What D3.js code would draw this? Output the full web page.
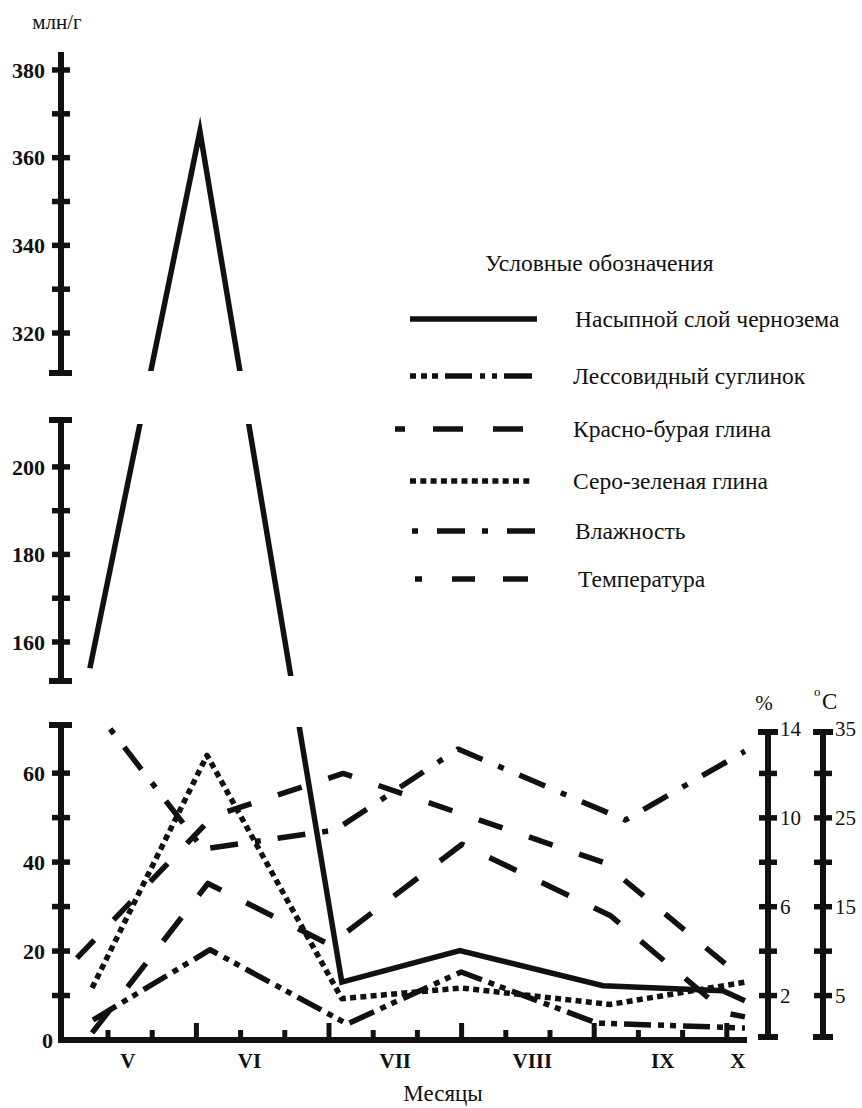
<!DOCTYPE html>
<html><head><meta charset="utf-8">
<script src="https://cdn.jsdelivr.net/npm/d3@7/dist/d3.min.js"></script>
<style>
body{margin:0;background:#fff}
svg{display:block}
</style>
</head><body>
<svg id="c" width="862" height="1108"></svg>
<script>
// ---------------- DATA ----------------
// x positions in ten-day periods (decades) counted from 1 May
const monthLabels = ["V","VI","VII","VIII","IX","X"];
const monthLabelPos = [1.45, 4.2, 7.5, 10.6, 13.55, 15.25];
const xMinorTicks = [1,2,4,5,7,8,10,11,13,14];
const xMajorTicks = [3,6,9,12,15];

const leftLabelTicks = [0,20,40,60,160,180,200,320,340,360,380];
const leftMinorTicks = [10,30,50,170,190,330,350,370];
const humTicksLabeled = [2,6,10,14];
const humTicksMinor = [4,8,12];
const tempTicksLabeled = [5,15,25,35];
const tempTicksMinor = [10,20,30];

// Насыпной слой чернозема (млн/г)
const chernozemX = [0.59, 3.08, 6.29, 8.96, 12.20, 14.91, 15.41];
const chernozemY = [154, 366, 13, 20.1, 12.2, 11.1, 8.8];
// Лессовидный суглинок (млн/г)
const loessX = [0.66, 3.31, 6.41, 8.99, 12.06, 15.41];
const loessY = [4.5, 20.3, 3.6, 15.3, 3.8, 2.7];
// Красно-бурая глина (млн/г)
const redClayX = [0.64, 3.26, 6.02, 9.01, 12.36, 15.0, 15.41];
const redClayY = [1.6, 35.2, 21.4, 44, 28, 6, 5.2];
// Серо-зеленая глина (млн/г)
const greyClayX = [0.64, 3.24, 6.29, 8.99, 12.36, 15.41];
const greyClayY = [11.7, 64, 9.3, 11.7, 8.0, 13.0];
// Влажность (%)
const humidityX = [1.05, 3.15, 6.14, 8.92, 12.70, 15.41];
const humidityY = [14.0, 8.6, 9.45, 13.1, 9.9, 13.0];
// Температура (°C)
const tempX = [0.14, 3.38, 6.32, 12.2, 15.03];
const tempY = [8.4, 25.2, 30.0, 20.0, 8.3];

const legendNames = ["Насыпной слой чернозема","Лессовидный суглинок","Красно-бурая глина",
  "Серо-зеленая глина","Влажность","Температура"];

// ---------------- SCALES ----------------
const FONT = "'Liberation Serif'";
const svg = d3.select("#c");
function txt(sel){ return sel.attr("font-family",FONT).attr("fill","#111"); }
const x = d3.scaleLinear().domain([0, 15]).range([63.8, 726.8]);
const segs = [
  {lo:310.2, hi:384.1, capTop:false},
  {lo:150.4, hi:211.4, capTop:true},
  {lo:0,     hi:71.5,  capTop:true}
];
const yL = d3.scaleLinear().domain([0,71.5,150.4,211.4,310.2,384.1])
                           .range([1040,722,684,417,376,52]);
const yH = d3.scaleLinear().domain([0,14]).range([1040,729]);
const yT = d3.scaleLinear().domain([0,35]).range([1040,729]);

const axX = 61, humX = 768, tempAxX = 823, x0 = 1040;

// ---------------- AXES ----------------
const ax = svg.append("g").attr("stroke","#111").attr("fill","none");
segs.forEach((s,i)=>{
  const top = yL(s.hi), bot = (i===2) ? x0+3 : yL(s.lo);
  ax.append("line").attr("x1",axX).attr("x2",axX).attr("y1",top).attr("y2",bot).attr("stroke-width",6);
  if (s.capTop) ax.append("line").attr("x1",axX-12).attr("x2",axX+11).attr("y1",top+3).attr("y2",top+3).attr("stroke-width",6);
  if (i<2) ax.append("line").attr("x1",axX-12).attr("x2",axX+11).attr("y1",bot-3).attr("y2",bot-3).attr("stroke-width",6);
});
leftLabelTicks.concat(leftMinorTicks).filter(v=>v!==0).forEach(v=>{
  ax.append("line").attr("x1",axX-9).attr("x2",axX+9).attr("y1",yL(v)).attr("y2",yL(v)).attr("stroke-width",5.5);
});
txt(svg.append("g").selectAll("text").data(leftLabelTicks).join("text"))
  .attr("x",v=> v===0 ? 53 : 45).attr("y",v=>yL(v)).attr("dy","0.35em")
  .attr("text-anchor","end").attr("font-weight","bold").attr("font-size",22).text(v=>v);
txt(svg.append("text")).attr("x",57).attr("y",29).attr("text-anchor","middle").attr("font-size",21).text("млн/г");

// x axis
ax.append("line").attr("x1",axX-3).attr("x2",747).attr("y1",x0).attr("y2",x0).attr("stroke-width",6);
xMinorTicks.forEach(d=>ax.append("line").attr("x1",x(d)).attr("x2",x(d)).attr("y1",x0).attr("y2",x0-10).attr("stroke-width",5));
xMajorTicks.forEach(d=>ax.append("line").attr("x1",x(d)).attr("x2",x(d)).attr("y1",x0).attr("y2",x0-17).attr("stroke-width",5));
txt(svg.append("g").selectAll("text").data(monthLabels).join("text"))
  .attr("x",(d,i)=>x(monthLabelPos[i])).attr("y",1068).attr("text-anchor","middle")
  .attr("font-weight","bold").attr("font-size",21).text(d=>d);
txt(svg.append("text")).attr("x",443).attr("y",1101).attr("text-anchor","middle").attr("font-size",23).text("Месяцы");

// right axes
function rightAxis(cx, scale, labeled, minor, maxV){
  ax.append("line").attr("x1",cx).attr("x2",cx).attr("y1",scale(maxV)).attr("y2",scale(0)).attr("stroke-width",6);
  [maxV,0].forEach(v=>ax.append("line").attr("x1",cx-10).attr("x2",cx+10).attr("y1",scale(v)+(v?3:-3)).attr("y2",scale(v)+(v?3:-3)).attr("stroke-width",6));
  labeled.concat(minor).filter(v=>v!==maxV).forEach(v=>ax.append("line").attr("x1",cx-9).attr("x2",cx+9).attr("y1",scale(v)).attr("y2",scale(v)).attr("stroke-width",5.5));
  txt(svg.append("g").selectAll("text").data(labeled).join("text"))
    .attr("x",cx+12).attr("y",v=>scale(v)).attr("dy","0.35em").attr("font-size",21).text(v=>v);
}
rightAxis(humX, yH, humTicksLabeled, humTicksMinor, 14);
rightAxis(tempAxX, yT, tempTicksLabeled, tempTicksMinor, 35);
txt(svg.append("text")).attr("x",764).attr("y",710).attr("text-anchor","middle").attr("font-size",21).text("%");
txt(svg.append("text")).attr("x",814).attr("y",696).attr("font-size",13).text("o");
txt(svg.append("text")).attr("x",822).attr("y",709).attr("font-size",23).text("C");

// ---------------- SERIES ----------------
const defs = svg.append("defs");
const clipBands = [[0, yL(310.2)-5],[yL(211.4)+7, yL(150.4)-8],[yL(71.5)+5, 1050]];
clipBands.forEach((b,i)=>defs.append("clipPath").attr("id","band"+i)
  .append("rect").attr("x",40).attr("y",b[0]).attr("width",740).attr("height",b[1]-b[0]));

const series = [
  {xs:chernozemX, ys:chernozemY, sc:yL, dash:null, off:0},
  {xs:loessX, ys:loessY, sc:yL, dash:"27,7,6,6,6,7", off:0},
  {xs:redClayX, ys:redClayY, sc:yL, dash:"30,28", off:0},
  {xs:greyClayX, ys:greyClayY, sc:yL, dash:"6,4.3", off:0},
  {xs:humidityX, ys:humidityY, sc:yH, dash:"6,17,28,17", off:0},
  {xs:tempX, ys:tempY, sc:yT, dash:"25,28", off:-10}
];
const line = d3.line();
series.forEach((s,si)=>{
  const pts = s.xs.map((d,i)=>[x(d), s.sc(s.ys[i])]);
  const bands = si===0 ? [0,1,2] : [2];
  bands.forEach(b=>{
    const p = svg.append("path").attr("d",line(pts)).attr("fill","none").attr("stroke","#111")
      .attr("stroke-width",5.5).attr("clip-path","url(#band"+b+")")
      .attr("stroke-linejoin", si===0 ? "miter" : "round").attr("stroke-miterlimit",12);
    if (s.dash) p.attr("stroke-dasharray",s.dash).attr("stroke-dashoffset",s.off);
  });
});

// ---------------- LEGEND ----------------
txt(svg.append("text")).attr("x",485).attr("y",271).attr("font-size",23.5).text("Условные обозначения");
const legY = [319,376,429,481,531,579];
const legX1 = [410,410,395,410,412,415];
const legX2 = [537,533,523,533,535,528];
const legTX = [575,573,573,573,575,578];
const legDash = ["","6,5,6,5,6,7,27,8,5,7,5,7,28,10","10,28,30,30,30,30","6,4.3","6,19,28,17","7,30,23,28,25,40"];
legendNames.forEach((n,i)=>{
  const l = svg.append("line").attr("x1",legX1[i]).attr("x2",legX2[i]).attr("y1",legY[i]).attr("y2",legY[i])
    .attr("stroke","#111").attr("stroke-width",5.5);
  if (legDash[i]) l.attr("stroke-dasharray",legDash[i]);
  txt(svg.append("text")).attr("x",legTX[i]).attr("y",legY[i]).attr("dy","0.35em").attr("font-size",23.5).text(n);
});
</script>
</body></html>
